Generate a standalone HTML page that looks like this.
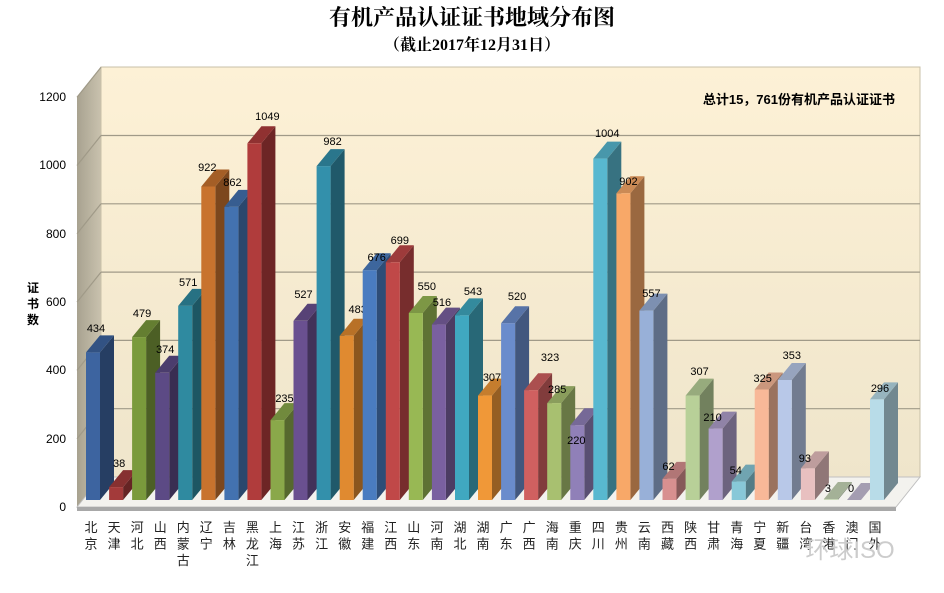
<!DOCTYPE html>
<html><head><meta charset="utf-8"><style>
body{margin:0;background:#fff;}
svg{display:block;font-family:"Liberation Sans","Noto Sans CJK SC",sans-serif;}
.s{filter:brightness(.62)}
.t{filter:brightness(.82)}
.v{font-size:11px;text-anchor:middle}
.c{font-size:13px;text-anchor:middle;fill:#222}
</style></head><body>
<svg width="944" height="593" viewBox="0 0 944 593" xmlns="http://www.w3.org/2000/svg">
<defs>
<linearGradient id="bw" x1="0" y1="0" x2="0" y2="1"><stop offset="0" stop-color="#fdf1d6"/><stop offset="1" stop-color="#efe5cb"/></linearGradient>
<linearGradient id="sw" x1="0" y1="0" x2="1" y2="0"><stop offset="0" stop-color="#a8a290"/><stop offset="1" stop-color="#c9c2ae"/></linearGradient>
<g id="b"></g>
</defs>
<text x="472" y="25" text-anchor="middle" font-size="22" font-weight="bold" font-family="Liberation Serif,'Noto Serif CJK SC',serif">有机产品认证证书地域分布图</text>
<text x="472" y="50" text-anchor="middle" font-size="16" font-weight="bold" font-family="Liberation Serif,'Noto Serif CJK SC',serif">（截止2017年12月31日）</text>
<polygon points="77,97 101,67 101,477 77,507" fill="url(#sw)"/>
<rect x="101" y="67" width="819" height="410" fill="url(#bw)" stroke="#c8c0a8"/>
<polygon points="77,507 101,477 920,477 896,507" fill="#f3f2ee" stroke="#c0c0c0"/>
<polygon points="77,507 896,507 896,511 77,511" fill="#a8a8a8"/>
<g stroke="#a09a88" stroke-width="1.2" fill="none">
<line x1="101" y1="408.7" x2="920" y2="408.7"/><line x1="77" y1="438.7" x2="101" y2="408.7"/>
<line x1="101" y1="340.4" x2="920" y2="340.4"/><line x1="77" y1="370.4" x2="101" y2="340.4"/>
<line x1="101" y1="272.1" x2="920" y2="272.1"/><line x1="77" y1="302.1" x2="101" y2="272.1"/>
<line x1="101" y1="203.8" x2="920" y2="203.8"/><line x1="77" y1="233.8" x2="101" y2="203.8"/>
<line x1="101" y1="135.5" x2="920" y2="135.5"/><line x1="77" y1="165.5" x2="101" y2="135.5"/>
<line x1="77" y1="97.2" x2="101" y2="67.2"/>
</g>
<g font-size="12" text-anchor="end" fill="#000">
<text x="66" y="101">1200</text><text x="66" y="169">1000</text><text x="66" y="238">800</text><text x="66" y="306">600</text><text x="66" y="374">400</text><text x="66" y="443">200</text><text x="66" y="511">0</text>
</g>
<g font-size="12" font-weight="bold" text-anchor="middle"><text x="33" y="292">证</text><text x="33" y="308">书</text><text x="33" y="324">数</text></g>
<text x="895" y="104" text-anchor="end" font-size="13" font-weight="bold">总计15，761份有机产品认证证书</text>

<g transform="translate(86,0)" fill="#3d64a0"><polygon class="s" points="14,352.4 28,335.4 28,483 14,500"/><polygon class="t" points="0,352.4 14,335.4 28,335.4 14,352.4"/><rect x="0" y="352.4" width="14" height="147.6"/><text class="v" fill="#000" x="10" y="332">434</text><text class="c" x="5" y="532">北</text><text class="c" x="5" y="548.5">京</text></g>
<g transform="translate(109.1,0)" fill="#a33a3a"><polygon class="s" points="14,487.1 28,470.1 28,483 14,500"/><polygon class="t" points="0,487.1 14,470.1 28,470.1 14,487.1"/><rect x="0" y="487.1" width="14" height="12.9"/><text class="v" fill="#000" x="10" y="467">38</text><text class="c" x="5" y="532">天</text><text class="c" x="5" y="548.5">津</text></g>
<g transform="translate(132.1,0)" fill="#7a9a3c"><polygon class="s" points="14,337.1 28,320.1 28,483 14,500"/><polygon class="t" points="0,337.1 14,320.1 28,320.1 14,337.1"/><rect x="0" y="337.1" width="14" height="162.9"/><text class="v" fill="#000" x="10" y="317">479</text><text class="c" x="5" y="532">河</text><text class="c" x="5" y="548.5">北</text></g>
<g transform="translate(155.2,0)" fill="#5c4a85"><polygon class="s" points="14,372.8 28,355.8 28,483 14,500"/><polygon class="t" points="0,372.8 14,355.8 28,355.8 14,372.8"/><rect x="0" y="372.8" width="14" height="127.2"/><text class="v" fill="#000" x="10" y="353">374</text><text class="c" x="5" y="532">山</text><text class="c" x="5" y="548.5">西</text></g>
<g transform="translate(178.2,0)" fill="#2f8aa0"><polygon class="s" points="14,305.9 28,288.9 28,483 14,500"/><polygon class="t" points="0,305.9 14,288.9 28,288.9 14,305.9"/><rect x="0" y="305.9" width="14" height="194.1"/><text class="v" fill="#000" x="10" y="286">571</text><text class="c" x="5" y="532">内</text><text class="c" x="5" y="548.5">蒙</text><text class="c" x="5" y="565">古</text></g>
<g transform="translate(201.3,0)" fill="#c8732e"><polygon class="s" points="14,186.5 28,169.5 28,483 14,500"/><polygon class="t" points="0,186.5 14,169.5 28,169.5 14,186.5"/><rect x="0" y="186.5" width="14" height="313.5"/><text class="v" fill="#000" x="6" y="171">922</text><text class="c" x="5" y="532">辽</text><text class="c" x="5" y="548.5">宁</text></g>
<g transform="translate(224.4,0)" fill="#4372b0"><polygon class="s" points="14,206.9 28,189.9 28,483 14,500"/><polygon class="t" points="0,206.9 14,189.9 28,189.9 14,206.9"/><rect x="0" y="206.9" width="14" height="293.1"/><text class="v" fill="#000" x="8" y="186">862</text><text class="c" x="5" y="532">吉</text><text class="c" x="5" y="548.5">林</text></g>
<g transform="translate(247.4,0)" fill="#b03c3c"><polygon class="s" points="14,143.3 28,126.3 28,483 14,500"/><polygon class="t" points="0,143.3 14,126.3 28,126.3 14,143.3"/><rect x="0" y="143.3" width="14" height="356.7"/><text class="v" fill="#000" x="20" y="120">1049</text><text class="c" x="5" y="532">黑</text><text class="c" x="5" y="548.5">龙</text><text class="c" x="5" y="565">江</text></g>
<g transform="translate(270.5,0)" fill="#8aa84a"><polygon class="s" points="14,420.1 28,403.1 28,483 14,500"/><polygon class="t" points="0,420.1 14,403.1 28,403.1 14,420.1"/><rect x="0" y="420.1" width="14" height="79.9"/><text class="v" fill="#000" x="14" y="402">235</text><text class="c" x="5" y="532">上</text><text class="c" x="5" y="548.5">海</text></g>
<g transform="translate(293.5,0)" fill="#6a5090"><polygon class="s" points="14,320.8 28,303.8 28,483 14,500"/><polygon class="t" points="0,320.8 14,303.8 28,303.8 14,320.8"/><rect x="0" y="320.8" width="14" height="179.2"/><text class="v" fill="#000" x="10" y="298">527</text><text class="c" x="5" y="532">江</text><text class="c" x="5" y="548.5">苏</text></g>
<g transform="translate(316.6,0)" fill="#3390ab"><polygon class="s" points="14,166.1 28,149.1 28,483 14,500"/><polygon class="t" points="0,166.1 14,149.1 28,149.1 14,166.1"/><rect x="0" y="166.1" width="14" height="333.9"/><text class="v" fill="#000" x="16" y="145">982</text><text class="c" x="5" y="532">浙</text><text class="c" x="5" y="548.5">江</text></g>
<g transform="translate(339.7,0)" fill="#e08a30"><polygon class="s" points="14,335.8 28,318.8 28,483 14,500"/><polygon class="t" points="0,335.8 14,318.8 28,318.8 14,335.8"/><rect x="0" y="335.8" width="14" height="164.2"/><text class="v" fill="#000" x="18" y="313">483</text><text class="c" x="5" y="532">安</text><text class="c" x="5" y="548.5">徽</text></g>
<g transform="translate(362.7,0)" fill="#4a7cc0"><polygon class="s" points="14,270.2 28,253.2 28,483 14,500"/><polygon class="t" points="0,270.2 14,253.2 28,253.2 14,270.2"/><rect x="0" y="270.2" width="14" height="229.8"/><text class="v" fill="#000" x="14" y="261">676</text><text class="c" x="5" y="532">福</text><text class="c" x="5" y="548.5">建</text></g>
<g transform="translate(385.8,0)" fill="#c04848"><polygon class="s" points="14,262.3 28,245.3 28,483 14,500"/><polygon class="t" points="0,262.3 14,245.3 28,245.3 14,262.3"/><rect x="0" y="262.3" width="14" height="237.7"/><text class="v" fill="#000" x="14" y="244">699</text><text class="c" x="5" y="532">江</text><text class="c" x="5" y="548.5">西</text></g>
<g transform="translate(408.8,0)" fill="#98b854"><polygon class="s" points="14,313 28,296 28,483 14,500"/><polygon class="t" points="0,313 14,296 28,296 14,313"/><rect x="0" y="313" width="14" height="187"/><text class="v" fill="#000" x="18" y="290">550</text><text class="c" x="5" y="532">山</text><text class="c" x="5" y="548.5">东</text></g>
<g transform="translate(431.9,0)" fill="#7a60a0"><polygon class="s" points="14,324.6 28,307.6 28,483 14,500"/><polygon class="t" points="0,324.6 14,307.6 28,307.6 14,324.6"/><rect x="0" y="324.6" width="14" height="175.4"/><text class="v" fill="#000" x="10" y="306">516</text><text class="c" x="5" y="532">河</text><text class="c" x="5" y="548.5">南</text></g>
<g transform="translate(455,0)" fill="#40a8c0"><polygon class="s" points="14,315.4 28,298.4 28,483 14,500"/><polygon class="t" points="0,315.4 14,298.4 28,298.4 14,315.4"/><rect x="0" y="315.4" width="14" height="184.6"/><text class="v" fill="#000" x="18" y="295">543</text><text class="c" x="5" y="532">湖</text><text class="c" x="5" y="548.5">北</text></g>
<g transform="translate(478,0)" fill="#f09838"><polygon class="s" points="14,395.6 28,378.6 28,483 14,500"/><polygon class="t" points="0,395.6 14,378.6 28,378.6 14,395.6"/><rect x="0" y="395.6" width="14" height="104.4"/><text class="v" fill="#000" x="14" y="381">307</text><text class="c" x="5" y="532">湖</text><text class="c" x="5" y="548.5">南</text></g>
<g transform="translate(501.1,0)" fill="#6a8ccc"><polygon class="s" points="14,323.2 28,306.2 28,483 14,500"/><polygon class="t" points="0,323.2 14,306.2 28,306.2 14,323.2"/><rect x="0" y="323.2" width="14" height="176.8"/><text class="v" fill="#000" x="16" y="300">520</text><text class="c" x="5" y="532">广</text><text class="c" x="5" y="548.5">东</text></g>
<g transform="translate(524.1,0)" fill="#d06060"><polygon class="s" points="14,390.2 28,373.2 28,483 14,500"/><polygon class="t" points="0,390.2 14,373.2 28,373.2 14,390.2"/><rect x="0" y="390.2" width="14" height="109.8"/><text class="v" fill="#000" x="26" y="361">323</text><text class="c" x="5" y="532">广</text><text class="c" x="5" y="548.5">西</text></g>
<g transform="translate(547.2,0)" fill="#a8c070"><polygon class="s" points="14,403.1 28,386.1 28,483 14,500"/><polygon class="t" points="0,403.1 14,386.1 28,386.1 14,403.1"/><rect x="0" y="403.1" width="14" height="96.9"/><text class="v" fill="#000" x="10" y="393">285</text><text class="c" x="5" y="532">海</text><text class="c" x="5" y="548.5">南</text></g>
<g transform="translate(570.3,0)" fill="#9080b8"><polygon class="s" points="14,425.2 28,408.2 28,483 14,500"/><polygon class="t" points="0,425.2 14,408.2 28,408.2 14,425.2"/><rect x="0" y="425.2" width="14" height="74.8"/><text class="v" fill="#000" x="6" y="444">220</text><text class="c" x="5" y="532">重</text><text class="c" x="5" y="548.5">庆</text></g>
<g transform="translate(593.3,0)" fill="#58b8d0"><polygon class="s" points="14,158.6 28,141.6 28,483 14,500"/><polygon class="t" points="0,158.6 14,141.6 28,141.6 14,158.6"/><rect x="0" y="158.6" width="14" height="341.4"/><text class="v" fill="#000" x="14" y="137">1004</text><text class="c" x="5" y="532">四</text><text class="c" x="5" y="548.5">川</text></g>
<g transform="translate(616.4,0)" fill="#f8a868"><polygon class="s" points="14,193.3 28,176.3 28,483 14,500"/><polygon class="t" points="0,193.3 14,176.3 28,176.3 14,193.3"/><rect x="0" y="193.3" width="14" height="306.7"/><text class="v" fill="#000" x="12" y="185">902</text><text class="c" x="5" y="532">贵</text><text class="c" x="5" y="548.5">州</text></g>
<g transform="translate(639.4,0)" fill="#98b0d8"><polygon class="s" points="14,310.6 28,293.6 28,483 14,500"/><polygon class="t" points="0,310.6 14,293.6 28,293.6 14,310.6"/><rect x="0" y="310.6" width="14" height="189.4"/><text class="v" fill="#000" x="12" y="297">557</text><text class="c" x="5" y="532">云</text><text class="c" x="5" y="548.5">南</text></g>
<g transform="translate(662.5,0)" fill="#d89090"><polygon class="s" points="14,478.9 28,461.9 28,483 14,500"/><polygon class="t" points="0,478.9 14,461.9 28,461.9 14,478.9"/><rect x="0" y="478.9" width="14" height="21.1"/><text class="v" fill="#000" x="6" y="470">62</text><text class="c" x="5" y="532">西</text><text class="c" x="5" y="548.5">藏</text></g>
<g transform="translate(685.6,0)" fill="#b8d098"><polygon class="s" points="14,395.6 28,378.6 28,483 14,500"/><polygon class="t" points="0,395.6 14,378.6 28,378.6 14,395.6"/><rect x="0" y="395.6" width="14" height="104.4"/><text class="v" fill="#000" x="14" y="375">307</text><text class="c" x="5" y="532">陕</text><text class="c" x="5" y="548.5">西</text></g>
<g transform="translate(708.6,0)" fill="#b0a0cc"><polygon class="s" points="14,428.6 28,411.6 28,483 14,500"/><polygon class="t" points="0,428.6 14,411.6 28,411.6 14,428.6"/><rect x="0" y="428.6" width="14" height="71.4"/><text class="v" fill="#000" x="4" y="421">210</text><text class="c" x="5" y="532">甘</text><text class="c" x="5" y="548.5">肃</text></g>
<g transform="translate(731.7,0)" fill="#88c8d8"><polygon class="s" points="14,481.6 28,464.6 28,483 14,500"/><polygon class="t" points="0,481.6 14,464.6 28,464.6 14,481.6"/><rect x="0" y="481.6" width="14" height="18.4"/><text class="v" fill="#000" x="4" y="474">54</text><text class="c" x="5" y="532">青</text><text class="c" x="5" y="548.5">海</text></g>
<g transform="translate(754.7,0)" fill="#f8b898"><polygon class="s" points="14,389.5 28,372.5 28,483 14,500"/><polygon class="t" points="0,389.5 14,372.5 28,372.5 14,389.5"/><rect x="0" y="389.5" width="14" height="110.5"/><text class="v" fill="#000" x="8" y="382">325</text><text class="c" x="5" y="532">宁</text><text class="c" x="5" y="548.5">夏</text></g>
<g transform="translate(777.8,0)" fill="#b8c8e8"><polygon class="s" points="14,380 28,363 28,483 14,500"/><polygon class="t" points="0,380 14,363 28,363 14,380"/><rect x="0" y="380" width="14" height="120"/><text class="v" fill="#000" x="14" y="359">353</text><text class="c" x="5" y="532">新</text><text class="c" x="5" y="548.5">疆</text></g>
<g transform="translate(800.9,0)" fill="#e8c0c0"><polygon class="s" points="14,468.4 28,451.4 28,483 14,500"/><polygon class="t" points="0,468.4 14,451.4 28,451.4 14,468.4"/><rect x="0" y="468.4" width="14" height="31.6"/><text class="v" fill="#000" x="4" y="462">93</text><text class="c" x="5" y="532">台</text><text class="c" x="5" y="548.5">湾</text></g>
<g transform="translate(823.9,0)" fill="#c8d8b8"><polygon class="s" points="14,499 28,482 28,483 14,500"/><polygon class="t" points="0,499 14,482 28,482 14,499"/><rect x="0" y="499" width="14" height="1"/><text class="v" fill="#000" x="4" y="492">3</text><text class="c" x="5" y="532">香</text><text class="c" x="5" y="548.5">港</text></g>
<g transform="translate(847,0)" fill="#c8c0d8"><polygon class="t" points="0,500 14,483 28,483 14,500"/><text class="v" fill="#000" x="4" y="492">0</text><text class="c" x="5" y="532">澳</text><text class="c" x="5" y="548.5">门</text></g>
<g transform="translate(870,0)" fill="#b8dce8"><polygon class="s" points="14,399.4 28,382.4 28,483 14,500"/><polygon class="t" points="0,399.4 14,382.4 28,382.4 14,399.4"/><rect x="0" y="399.4" width="14" height="100.6"/><text class="v" fill="#000" x="10" y="392">296</text><text class="c" x="5" y="532">国</text><text class="c" x="5" y="548.5">外</text></g>

<text x="850" y="558" text-anchor="middle" font-size="24" fill="#ccc">环球ISO</text>
</svg>
</body></html>
